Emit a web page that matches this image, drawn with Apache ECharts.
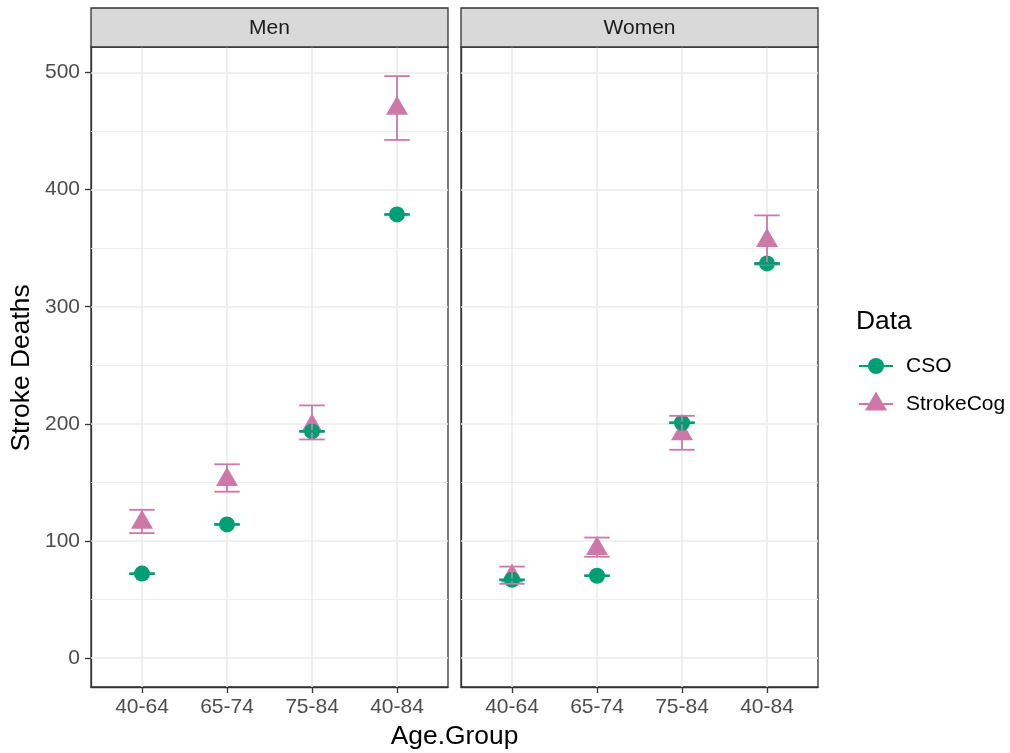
<!DOCTYPE html>
<html>
<head>
<meta charset="utf-8">
<title>Stroke Deaths by Age Group</title>
<script src="https://cdn.jsdelivr.net/npm/echarts@6/dist/echarts.min.js"></script>
<style>
  html, body { margin: 0; padding: 0; background: #ffffff; }
  #chart { width: 1010px; height: 753px; }
</style>
</head>
<body>
<div id="chart"></div>
<script>
// Categories and facet panels
const ageGroups = ['40-64', '65-74', '75-84', '40-84'];
const panelNames = ['Men', 'Women'];

// CSO counts with their (narrow) intervals
const csoMen = [72, 114, 193.5, 378.8];
const csoMenLow = [71.6, 113.6, 193.1, 378.4];
const csoMenHigh = [72.4, 114.4, 193.9, 379.2];
const csoWomen = [66.7, 70.2, 200.9, 337];
const csoWomenLow = [66.3, 69.8, 200.5, 336.6];
const csoWomenHigh = [67.1, 70.6, 201.3, 337.4];

// StrokeCog estimates with intervals
const strokeCogMen = [115.8, 152.3, 198, 469.5];
const strokeCogMenLow = [106.6, 142, 186.6, 442.5];
const strokeCogMenHigh = [126.5, 165.4, 215.7, 497];
const strokeCogWomen = [70, 93.5, 191.5, 356.5];
const strokeCogWomenLow = [63.3, 86.4, 177.8, 336];
const strokeCogWomenHigh = [78, 102.8, 206.8, 378];

// Axis ticks and grid lines
const yTicks = [0, 100, 200, 300, 400, 500];
const yMinorLines = [50, 150, 250, 350, 450];
const xTicks = [1, 2, 3, 4];

const GREEN = '#009E73';
const PINK = '#CC79A7';
const FONT = '"Liberation Sans", Arial, sans-serif';
const TICK_FS = 21;
const TITLE_FS = 26.4;
const Y_MIN = -24.85, Y_MAX = 521.85;

const panels = [
  { name: panelNames[0], left: 91, cso: csoMen, csoLow: csoMenLow, csoHigh: csoMenHigh,
    sc: strokeCogMen, scLow: strokeCogMenLow, scHigh: strokeCogMenHigh },
  { name: panelNames[1], left: 461, cso: csoWomen, csoLow: csoWomenLow, csoHigh: csoWomenHigh,
    sc: strokeCogWomen, scLow: strokeCogWomenLow, scHigh: strokeCogWomenHigh }
];
const PANEL_W = 357, PANEL_TOP = 47, PANEL_H = 640, STRIP_TOP = 8;

function pointData(vals) { return vals.map((v, i) => [xTicks[i], v]); }
function barData(vals, lo, hi) { return vals.map((v, i) => [xTicks[i], v, lo[i], hi[i]]); }

function errorBarRenderer(color) {
  return function (params, api) {
    const x = api.value(0);
    const pLo = api.coord([x, api.value(2)]);
    const pHi = api.coord([x, api.value(3)]);
    const half = api.size([0.15, 0])[0];
    const style = { stroke: color, lineWidth: 1.8, fill: null };
    return {
      type: 'group',
      children: [
        { type: 'line', shape: { x1: pLo[0], y1: pLo[1], x2: pHi[0], y2: pHi[1] }, style },
        { type: 'line', shape: { x1: pLo[0] - half, y1: pLo[1], x2: pLo[0] + half, y2: pLo[1] }, style },
        { type: 'line', shape: { x1: pHi[0] - half, y1: pHi[1], x2: pHi[0] + half, y2: pHi[1] }, style }
      ]
    };
  };
}

const grids = [], xAxes = [], yAxes = [], series = [], graphics = [];
const axisLineStyle = { color: '#333333', width: 1.3 };

panels.forEach((p, k) => {
  grids.push({
    left: p.left, top: PANEL_TOP, width: PANEL_W, height: PANEL_H,
    show: true, backgroundColor: '#ffffff', borderColor: '#333333', borderWidth: 1.3
  });
  xAxes.push({
    type: 'value', gridIndex: k, min: 0.4, max: 4.6, position: 'bottom',
    axisLine: { show: true, onZero: false, lineStyle: axisLineStyle },
    axisTick: { show: true, customValues: xTicks, length: 6, lineStyle: { color: '#333333', width: 1.3 } },
    axisLabel: {
      show: true, customValues: xTicks, margin: 10, color: '#4D4D4D', fontSize: TICK_FS, fontFamily: FONT,
      formatter: v => ageGroups[Math.round(v) - 1]
    },
    splitLine: { show: false }
  });
  yAxes.push({
    type: 'value', gridIndex: k, min: Y_MIN, max: Y_MAX, position: 'left',
    axisLine: { show: true, onZero: false, lineStyle: axisLineStyle },
    axisTick: { show: k === 0, customValues: yTicks, length: 6, lineStyle: { color: '#333333', width: 1.3 } },
    axisLabel: { show: k === 0, customValues: yTicks, margin: 11, color: '#4D4D4D', fontSize: TICK_FS, fontFamily: FONT },
    splitLine: { show: false }
  });

  // Panel grid lines (major and minor) drawn on the panel's own scales, beneath the marks
  const gridLines = [];
  yTicks.forEach(v => gridLines.push({ yAxis: v, lineStyle: { width: 1.6 } }));
  yMinorLines.forEach(v => gridLines.push({ yAxis: v, lineStyle: { width: 0.9 } }));
  xTicks.forEach(v => gridLines.push({ xAxis: v, lineStyle: { width: 1.6 } }));
  series.push({
    type: 'line', xAxisIndex: k, yAxisIndex: k, data: [], z: 1, silent: true,
    markLine: {
      z: 1, silent: true, symbol: ['none', 'none'], label: { show: false },
      lineStyle: { color: '#EBEBEB', type: 'solid' }, emphasis: { disabled: true },
      animation: false, data: gridLines
    }
  });

  series.push({
    name: 'StrokeCog', type: 'scatter', xAxisIndex: k, yAxisIndex: k, z: 3,
    symbol: 'triangle', symbolSize: [22, 19], symbolOffset: [0, -3],
    itemStyle: { color: PINK, opacity: 1 }, data: pointData(p.sc)
  });
  series.push({
    name: 'CSO', type: 'scatter', xAxisIndex: k, yAxisIndex: k, z: 4,
    symbol: 'circle', symbolSize: 16,
    itemStyle: { color: GREEN, opacity: 1 }, data: pointData(p.cso)
  });
  series.push({
    name: 'StrokeCog', type: 'custom', xAxisIndex: k, yAxisIndex: k, z: 5,
    renderItem: errorBarRenderer(PINK), data: barData(p.sc, p.scLow, p.scHigh)
  });
  series.push({
    name: 'CSO', type: 'custom', xAxisIndex: k, yAxisIndex: k, z: 5,
    renderItem: errorBarRenderer(GREEN), data: barData(p.cso, p.csoLow, p.csoHigh)
  });

  // Facet strip
  graphics.push({
    type: 'rect', z: 10,
    shape: { x: p.left, y: STRIP_TOP, width: PANEL_W, height: PANEL_TOP - STRIP_TOP },
    style: { fill: '#D9D9D9', stroke: '#333333', lineWidth: 1.3 }
  });
  graphics.push({
    type: 'text', z: 11, x: p.left + PANEL_W / 2, y: (STRIP_TOP + PANEL_TOP) / 2 + 1,
    style: { text: p.name, fill: '#1A1A1A', font: TICK_FS + 'px ' + FONT, align: 'center', verticalAlign: 'middle' }
  });
});

// Axis titles
graphics.push({
  type: 'text', x: 22, y: 368, rotation: Math.PI / 2,
  style: { text: 'Stroke Deaths', fill: '#000000', font: TITLE_FS + 'px ' + FONT, align: 'center', verticalAlign: 'middle' }
});
graphics.push({
  type: 'text', x: 454.5, y: 737,
  style: { text: 'Age.Group', fill: '#000000', font: TITLE_FS + 'px ' + FONT, align: 'center', verticalAlign: 'middle' }
});

// Legend
graphics.push({
  type: 'text', x: 856, y: 322,
  style: { text: 'Data', fill: '#000000', font: TITLE_FS + 'px ' + FONT, align: 'left', verticalAlign: 'middle' }
});
graphics.push({ type: 'line', shape: { x1: 859, y1: 366, x2: 893, y2: 366 }, style: { stroke: GREEN, lineWidth: 1.8 } });
graphics.push({ type: 'circle', shape: { cx: 876, cy: 366, r: 8 }, style: { fill: GREEN } });
graphics.push({
  type: 'text', x: 906, y: 366,
  style: { text: 'CSO', fill: '#000000', font: TICK_FS + 'px ' + FONT, align: 'left', verticalAlign: 'middle' }
});
graphics.push({ type: 'line', shape: { x1: 859, y1: 404, x2: 893, y2: 404 }, style: { stroke: PINK, lineWidth: 1.8 } });
graphics.push({
  type: 'polygon', shape: { points: [[876, 391.5], [865, 410.5], [887, 410.5]] }, style: { fill: PINK }
});
graphics.push({
  type: 'text', x: 906, y: 404,
  style: { text: 'StrokeCog', fill: '#000000', font: TICK_FS + 'px ' + FONT, align: 'left', verticalAlign: 'middle' }
});

const chart = echarts.init(document.getElementById('chart'), null, { renderer: 'canvas' });
chart.setOption({
  animation: false,
  backgroundColor: '#ffffff',
  grid: grids,
  xAxis: xAxes,
  yAxis: yAxes,
  series: series,
  graphic: graphics
});
</script>
</body>
</html>
